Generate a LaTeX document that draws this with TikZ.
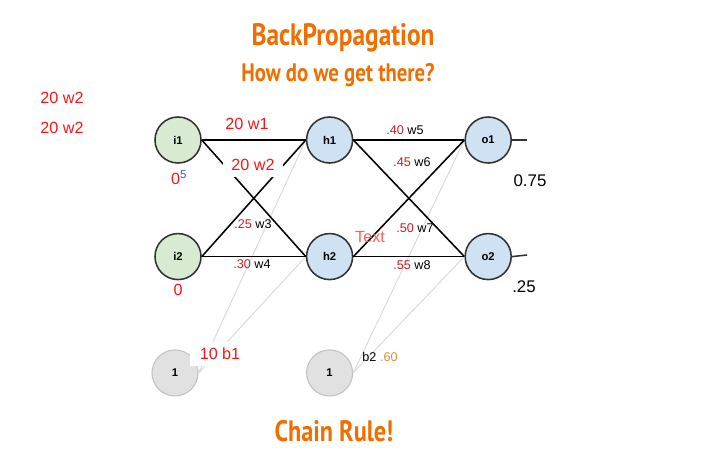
\documentclass[tikz,border=0pt]{standalone}
\usepackage{fontspec}
\setmainfont{Liberation Sans}
\newfontfamily\headfont[FakeStretch=0.82]{PT Sans}
\usetikzlibrary{positioning}
\definecolor{titleorange}{RGB}{240, 110, 0}
\definecolor{labelred}{RGB}{250, 20, 20}
\definecolor{weightred}{RGB}{200, 30, 30}
\definecolor{softred}{RGB}{255, 90, 90}
\definecolor{biasorange}{RGB}{225, 140, 50}
\definecolor{supblue}{RGB}{40, 90, 200}
\definecolor{inputgreen}{RGB}{217, 234, 211}
\definecolor{neuronblue}{RGB}{207, 226, 243}
\definecolor{biasgray}{RGB}{225, 225, 225}
\definecolor{edgegray}{RGB}{50, 50, 50}
\definecolor{faintgray}{RGB}{218, 218, 218}
\newcommand{\wt}[1]{{\color{weightred}#1}}
\tikzset{
  inputnode/.style={circle, minimum size=1.15cm, inner sep=0pt, draw=edgegray,
    line width=1.1pt, fill=inputgreen, font=\fontsize{8}{9}\selectfont\bfseries},
  neuron/.style={circle, minimum size=1.15cm, inner sep=0pt, draw=edgegray,
    line width=1.1pt, fill=neuronblue, font=\fontsize{8}{9}\selectfont\bfseries},
  biasnode/.style={circle, minimum size=1.15cm, inner sep=0pt, draw=faintgray!75!gray,
    line width=0.8pt, fill=biasgray, font=\fontsize{8}{9}\selectfont\bfseries},
  weight/.style={font=\fontsize{9}{10}\selectfont, inner sep=1pt},
  redlabel/.style={font=\fontsize{11.5}{13}\selectfont, color=labelred, inner sep=1pt},
  outval/.style={font=\fontsize{12}{14}\selectfont, inner sep=2pt},
  headline/.style={font=\headfont\bfseries, color=titleorange},
  link/.style={line width=1.1pt, color=black},
  biaslink/.style={line width=0.7pt, color=faintgray}
}
\begin{document}
\begin{tikzpicture}[x=0.025cm, y=-0.025cm, node distance=1.725cm and 2.6cm]
\useasboundingbox (0,0) rectangle (720,455);

% network
\node (i1) [inputnode] at (178,140) {i1};
\node (i2) [inputnode, below=of i1] {i2};
\node (h1) [neuron, right=of i1] {h1};
\node (h2) [neuron, right=of i2] {h2};
\node (o1) [neuron, right=2.775cm of h1] {o1};
\node (o2) [neuron, right=2.775cm of h2] {o2};
\node (b1) [biasnode, below=of i2, xshift=-0.075cm] {1};
\node (b2) [biasnode, below=of h2] {1};
\coordinate (out1) at (527,140);
\coordinate (out2) at (527,255);

\draw[biaslink] (b1.east) -- (h1.west);
\draw[biaslink] (b1.east) -- (h2.west);
\draw[biaslink] (b2.east) -- (o1.west);
\draw[biaslink] (b2.east) -- (o2.west);

\draw[link] (i1.east) -- (h1.west);
\draw[link] (i1.east) -- (h2.west);
\draw[link] (i2.east) -- (h1.west);
\draw[link] (i2.east) -- (h2.west);
\draw[link] (h1.east) -- (o1.west);
\draw[link] (h1.east) -- (o2.west);
\draw[link] (h2.east) -- (o1.west);
\draw[link] (h2.east) -- (o2.west);
\draw[link, color=edgegray] (o1.east) -- (out1);
\draw[link, color=edgegray] (o2.east) -- (out2);

% weights
\node (w1) [redlabel] at (247,124) {20 w1};
\node (w2) [redlabel, fill=white, inner xsep=6pt, inner ysep=4.5pt] at (253,165) {20 w2};
\node (w3) [weight] at (253,224) {\wt{.25} w3};
\node (w4) [weight] at (252,264) {\wt{.30} w4};
\node (w5) [weight] at (405,130) {\wt{.40} w5};
\node (w6) [weight] at (412,162) {\wt{.45} w6};
\node (w7) [weight] at (415,228) {\wt{.50} w7};
\node (w8) [weight] at (412,265) {\wt{.55} w8};
\node (txt) [redlabel, color=softred] at (370,237) {Text};
\node (bw1) [redlabel, fill=white, inner xsep=7pt, inner ysep=4pt] at (220,354) {10 b1};
\node (bw2) [weight] at (380,357) {b2 {\color{biasorange}.60}};

% values
\node (x1) [redlabel] at (179,178) {0\textsuperscript{\color{supblue}5}};
\node (x2) [redlabel] at (178,290) {0};
\node (y1) [outval] at (530,181) {0.75};
\node (y2) [outval, fill=white] at (524,287) {.25};
\node (n1) [redlabel] at (62,98) {20 w2};
\node (n2) [redlabel] at (62,128) {20 w2};

% headings
\node (title) [headline, font=\headfont\bfseries\fontsize{22}{25}\selectfont] at (343,38) {BackPropagation};
\node (quest) [headline, font=\headfont\bfseries\fontsize{18}{21}\selectfont] at (338,75) {How do we get there?};
\node (rule)  [headline, font=\headfont\bfseries\fontsize{21}{24}\selectfont] at (334,431) {Chain Rule!};
\end{tikzpicture}
\end{document}
